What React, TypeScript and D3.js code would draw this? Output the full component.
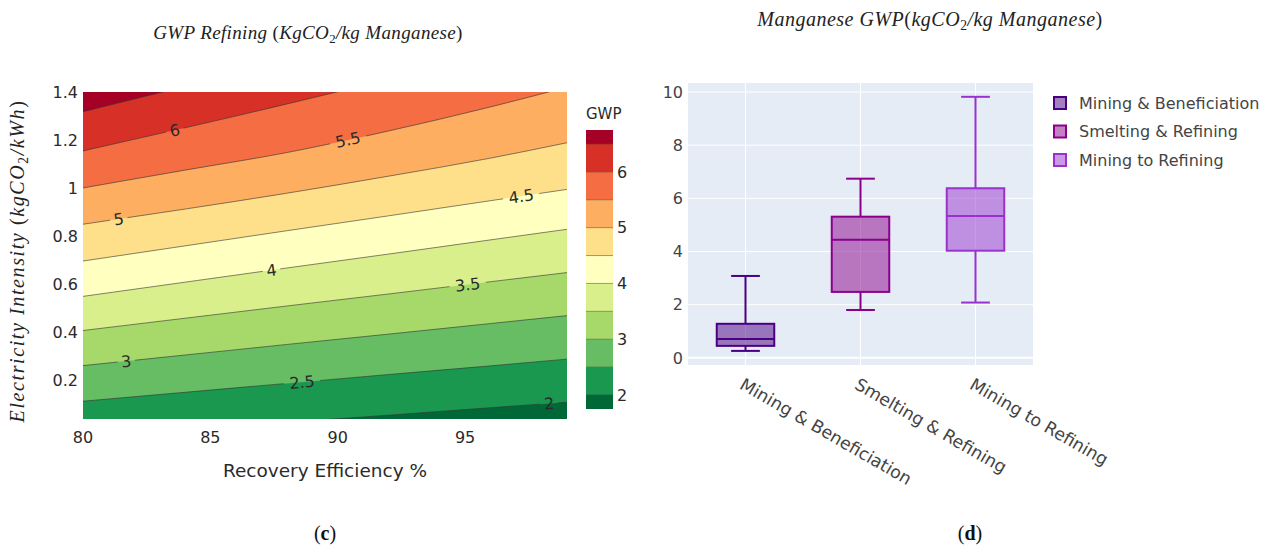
import React, { useEffect, useRef } from "react";
import * as d3 from "d3";

// ---- (c) contour: GWP refining vs recovery efficiency / electricity intensity
const recoveryTicks = [80, 85, 90, 95];
const intensityTicks = [0.2, 0.4, 0.6, 0.8, 1, 1.2, 1.4];
const gwpLevels = [2, 2.5, 3, 3.5, 4, 4.5, 5, 5.5, 6, 6.5];
const sampleRecovery = [80, 84, 88, 92, 96, 99];
// electricity intensity at which each level is reached, read at sampleRecovery
const level2 = [-0.035, -0.004, 0.026, 0.056, 0.087, 0.11];
const level2_5 = [0.114, 0.151, 0.188, 0.225, 0.261, 0.289];
const level3 = [0.262, 0.306, 0.35, 0.393, 0.437, 0.47];
const level3_5 = [0.408, 0.459, 0.51, 0.56, 0.611, 0.649];
const level4 = [0.55, 0.609, 0.668, 0.726, 0.785, 0.829];
const level4_5 = [0.697, 0.76, 0.823, 0.885, 0.948, 0.995];
const level5 = [0.85, 0.913, 0.979, 1.05, 1.125, 1.189];
const level5_5 = [1.001, 1.075, 1.148, 1.238, 1.338, 1.42];
const level6 = [1.155, 1.251, 1.35, 1.454, 1.567, 1.65];
const level6_5 = [1.318, 1.423, 1.529, 1.638, 1.75, 1.833];
const levelLines = [level2, level2_5, level3, level3_5, level4, level4_5, level5, level5_5, level6, level6_5];
const bandColors = [
  "#006837", "#1a9850", "#66bd63", "#a6d96a", "#d9ef8b", "#ffffbf",
  "#fee08b", "#fdae61", "#f46d43", "#d73027", "#a50026",
];
const labelLevels = [6, 5.5, 5, 4.5, 4, 3.5, 3, 2.5, 2];
const labelRecovery = [83.6, 90.4, 81.4, 97.2, 87.4, 95.1, 81.7, 88.6, 98.3];
const colorbarTicks = [2, 3, 4, 5, 6];

// ---- (d) box plot: manganese GWP by stage
const stages = ["Mining & Beneficiation", "Smelting & Refining", "Mining to Refining"];
const whiskerLow = [0.26, 1.8, 2.08];
const q1 = [0.45, 2.48, 4.03];
const median = [0.71, 4.44, 5.34];
const q3 = [1.28, 5.31, 6.38];
const whiskerHigh = [3.08, 6.74, 9.82];
const stageColors = ["#4b0082", "#8b008b", "#9932cc"];
const gwpTicks = [0, 2, 4, 6, 8, 10];

const sans = "DejaVu Sans, Verdana, sans-serif";
const mathFont = "Liberation Serif, Times New Roman, serif";

// italic math-like title with a subscript 2 after "CO"
const mathTitle = (sel, before, unit, after, size, spacing) => {
  sel.attr("font-family", mathFont).attr("font-style", "italic")
    .attr("font-size", size).attr("fill", "#222").attr("letter-spacing", spacing);
  sel.append("tspan").text(before);
  sel.append("tspan").attr("font-style", "normal").text("(");
  sel.append("tspan").text(unit);
  sel.append("tspan").attr("font-style", "normal").attr("font-size", size * 0.68).attr("dy", 4).text("2");
  sel.append("tspan").attr("dy", -4).text(after);
  sel.append("tspan").attr("font-style", "normal").text(")");
};

const App = () => {
  const ref = useRef<SVGSVGElement>(null);

  useEffect(() => {
    const svg = d3.select(ref.current);
    svg.selectAll("*").remove();

    // ================= contour (c) =================
    const left = 83, right = 567, top = 92, bottom = 419;
    const x = d3.scaleLinear().domain([80, 99]).range([left, right]);
    const y = d3.scaleLinear().domain([0.04, 1.4]).range([bottom, top]);

    const defs = svg.append("defs");
    defs.append("clipPath").attr("id", "plotClip")
      .append("rect").attr("x", left).attr("y", top)
      .attr("width", right - left).attr("height", bottom - top);

    // label positions & angles along each level line
    const labels = labelLevels.map((lv, i) => {
      const line = levelLines[gwpLevels.indexOf(lv)];
      const rx = labelRecovery[i];
      let j = 0;
      while (j < sampleRecovery.length - 2 && sampleRecovery[j + 1] < rx) j++;
      const x0 = x(sampleRecovery[j]), x1 = x(sampleRecovery[j + 1]);
      const y0 = y(line[j]), y1 = y(line[j + 1]);
      const t = (x(rx) - x0) / (x1 - x0);
      return {
        text: String(lv),
        px: x(rx),
        py: y0 + t * (y1 - y0),
        angle: (Math.atan2(y1 - y0, x1 - x0) * 180) / Math.PI,
      };
    });

    const mask = defs.append("mask").attr("id", "labelMask");
    mask.append("rect").attr("x", 0).attr("y", 0).attr("width", 1274).attr("height", 545).attr("fill", "white");
    labels.forEach((l) => {
      const w = l.text.length * 9.5 + 8;
      mask.append("rect")
        .attr("x", -w / 2).attr("y", -9).attr("width", w).attr("height", 18)
        .attr("fill", "black")
        .attr("transform", `translate(${l.px},${l.py}) rotate(${l.angle})`);
    });

    const plot = svg.append("g").attr("clip-path", "url(#plotClip)");
    plot.append("rect")
      .attr("x", left).attr("y", top)
      .attr("width", right - left).attr("height", bottom - top)
      .attr("fill", bandColors[0]);

    const area = d3.area<number>()
      .x((_, i) => x(sampleRecovery[i]))
      .y0((d) => y(d))
      .y1(y(2.2))
      .curve(d3.curveMonotoneX);
    const lineGen = d3.line<number>()
      .x((_, i) => x(sampleRecovery[i]))
      .y((d) => y(d))
      .curve(d3.curveMonotoneX);

    levelLines.forEach((line, i) => {
      plot.append("path").attr("d", area(line)).attr("fill", bandColors[i + 1]);
    });
    const lines = plot.append("g").attr("mask", "url(#labelMask)");
    levelLines.forEach((line) => {
      lines.append("path").attr("d", lineGen(line))
        .attr("fill", "none").attr("stroke", "#333").attr("stroke-opacity", 0.75)
        .attr("stroke-width", 0.8);
    });
    labels.forEach((l) => {
      plot.append("text")
        .attr("transform", `translate(${l.px},${l.py}) rotate(${l.angle})`)
        .attr("text-anchor", "middle").attr("dy", "0.36em")
        .attr("font-family", sans).attr("font-size", 16).attr("fill", "#2a2a2a")
        .text(l.text);
    });

    // axes (c)
    svg.append("g").selectAll("text").data(recoveryTicks).join("text")
      .attr("x", (d) => x(d)).attr("y", 443)
      .attr("text-anchor", "middle").attr("font-family", sans).attr("font-size", 16).attr("fill", "#2a2a2a")
      .text((d) => d);
    svg.append("g").selectAll("text").data(intensityTicks).join("text")
      .attr("x", 78).attr("y", (d) => y(d)).attr("dy", "0.36em")
      .attr("text-anchor", "end").attr("font-family", sans).attr("font-size", 16).attr("fill", "#2a2a2a")
      .text((d) => d);
    svg.append("text")
      .attr("x", (left + right) / 2).attr("y", 477)
      .attr("text-anchor", "middle").attr("font-family", sans).attr("font-size", 18.5).attr("fill", "#2a2a2a")
      .text("Recovery Efficiency %");

    mathTitle(
      svg.append("text").attr("transform", "translate(24,261) rotate(-90)").attr("text-anchor", "middle"),
      "Electricity Intensity ", "kgCO", "/kWh", 20, 1.6
    );
    mathTitle(
      svg.append("text").attr("x", 308).attr("y", 39).attr("text-anchor", "middle"),
      "GWP Refining ", "KgCO", "/kg Manganese", 19, 0.35
    );

    // colorbar
    const cb = d3.scaleLinear().domain([1.75, 6.75]).range([409, 130]);
    const bounds = [1.75, ...gwpLevels, 6.75];
    const cbG = svg.append("g");
    cbG.selectAll("rect").data(bandColors).join("rect")
      .attr("x", 586).attr("width", 27)
      .attr("y", (_, i) => cb(bounds[i + 1]))
      .attr("height", (_, i) => cb(bounds[i]) - cb(bounds[i + 1]))
      .attr("fill", (d) => d);
    cbG.selectAll("line").data(gwpLevels).join("line")
      .attr("x1", 586).attr("x2", 613)
      .attr("y1", (d) => cb(d)).attr("y2", (d) => cb(d))
      .attr("stroke", "#333").attr("stroke-opacity", 0.6).attr("stroke-width", 0.8);
    cbG.selectAll("text").data(colorbarTicks).join("text")
      .attr("x", 617).attr("y", (d) => cb(d)).attr("dy", "0.36em")
      .attr("font-family", sans).attr("font-size", 16).attr("fill", "#2a2a2a")
      .text((d) => d);
    svg.append("text").attr("x", 586).attr("y", 119)
      .attr("font-family", sans).attr("font-size", 15).attr("fill", "#2a2a2a").text("GWP");

    // ================= box plot (d) =================
    const bl = 688, br = 1033, bt = 83, bb = 365;
    const xb = d3.scaleBand<string>().domain(stages).range([bl, br]).padding(0);
    const yb = d3.scaleLinear().domain([-0.27, 10.34]).range([bb, bt]);
    const bw = xb.bandwidth();

    svg.append("rect").attr("x", bl).attr("y", bt).attr("width", br - bl).attr("height", bb - bt).attr("fill", "#e5ecf6");
    svg.append("g").selectAll("line").data(gwpTicks).join("line")
      .attr("x1", bl).attr("x2", br)
      .attr("y1", (d) => yb(d)).attr("y2", (d) => yb(d))
      .attr("stroke", "white").attr("stroke-width", (d) => (d === 0 ? 2 : 1));
    svg.append("g").selectAll("line").data(stages).join("line")
      .attr("x1", (d) => xb(d)! + bw / 2).attr("x2", (d) => xb(d)! + bw / 2)
      .attr("y1", bt).attr("y2", bb)
      .attr("stroke", "white").attr("stroke-width", 1);

    stages.forEach((s, i) => {
      const cx = xb(s)! + bw / 2;
      const half = bw * 0.25;
      const cap = half / 2;
      const c = stageColors[i];
      const g = svg.append("g").attr("stroke", c).attr("stroke-width", 2).attr("fill", "none");
      g.append("line").attr("x1", cx).attr("x2", cx).attr("y1", yb(whiskerHigh[i])).attr("y2", yb(q3[i]));
      g.append("line").attr("x1", cx).attr("x2", cx).attr("y1", yb(q1[i])).attr("y2", yb(whiskerLow[i]));
      g.append("line").attr("x1", cx - cap).attr("x2", cx + cap).attr("y1", yb(whiskerHigh[i])).attr("y2", yb(whiskerHigh[i]));
      g.append("line").attr("x1", cx - cap).attr("x2", cx + cap).attr("y1", yb(whiskerLow[i])).attr("y2", yb(whiskerLow[i]));
      g.append("rect")
        .attr("x", cx - half).attr("width", half * 2)
        .attr("y", yb(q3[i])).attr("height", yb(q1[i]) - yb(q3[i]))
        .attr("fill", c).attr("fill-opacity", 0.5);
      g.append("line").attr("x1", cx - half).attr("x2", cx + half).attr("y1", yb(median[i])).attr("y2", yb(median[i]));
    });

    svg.append("g").selectAll("text").data(gwpTicks).join("text")
      .attr("x", 683).attr("y", (d) => yb(d)).attr("dy", "0.36em")
      .attr("text-anchor", "end").attr("font-family", sans).attr("font-size", 16).attr("fill", "#444")
      .text((d) => d);
    svg.append("g").selectAll("text").data(stages).join("text")
      .attr("transform", (d) => `translate(${xb(d)! + bw / 2 - 7},388) rotate(30)`)
      .attr("font-family", sans).attr("font-size", 17.3).attr("fill", "#444")
      .text((d) => d);

    // legend
    const leg = svg.append("g");
    stages.forEach((s, i) => {
      const ly = 103 + i * 28.5;
      leg.append("rect").attr("x", 1054).attr("y", ly - 6).attr("width", 12).attr("height", 12)
        .attr("fill", stageColors[i]).attr("fill-opacity", 0.5)
        .attr("stroke", stageColors[i]).attr("stroke-width", 2);
      leg.append("text").attr("x", 1079).attr("y", ly).attr("dy", "0.36em")
        .attr("font-family", sans).attr("font-size", 16).attr("fill", "#444").text(s);
    });

    mathTitle(
      svg.append("text").attr("x", 930).attr("y", 26).attr("text-anchor", "middle"),
      "Manganese GWP", "kgCO", "/kg Manganese", 20, 0.5
    );

    // panel letters
    [["c", 325], ["d", 970]].forEach(([letter, cx]) => {
      const t = svg.append("text").attr("x", cx).attr("y", 540)
        .attr("text-anchor", "middle").attr("font-family", mathFont).attr("font-size", 20).attr("fill", "#111");
      t.append("tspan").text("(");
      t.append("tspan").attr("font-weight", "bold").text(letter as string);
      t.append("tspan").text(")");
    });
  }, []);

  return (
    <svg
      ref={ref}
      width={1274}
      height={545}
      style={{ position: "absolute", left: 0, top: 0, background: "white" }}
    />
  );
};

export default App;
